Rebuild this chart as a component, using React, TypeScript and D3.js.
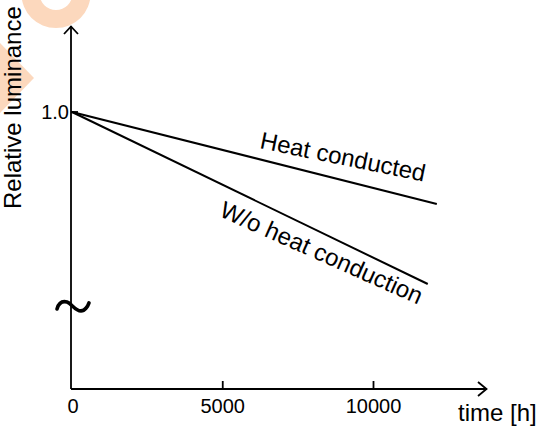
import React from "react";
import * as d3 from "d3";

const xTicks = [0, 5000, 10000];
const xTickLabels = ["0", "5000", "10000"];
const yTicks = [1.0];
const yTickLabels = ["1.0"];

const heatTime = [0, 12100];
const heatValue = [1.0, 0.668];
const woTime = [0, 11800];
const woValue = [1.0, 0.379];

const seriesLabels = ["Heat conducted", "W/o heat conduction"];
const xTitle = "time [h]";
const yTitle = "Relative luminance";

const W = 538;
const H = 427;
const FONT = "Arial, 'Liberation Sans', Helvetica, sans-serif";

export default function App() {
  const x = d3.scaleLinear().domain([0, 10000]).range([72, 373.5]);
  const y = d3.scaleLinear().domain([0, 1]).range([389, 112]);
  const axisX = 71;
  const axisY = y(0);

  const line = d3
    .line<[number, number]>()
    .x((d) => x(d[0]))
    .y((d) => y(d[1]));

  const heatPts: [number, number][] = heatTime.map((t, i) => [t, heatValue[i]]);
  const woPts: [number, number][] = woTime.map((t, i) => [t, woValue[i]]);

  const interp = (ts: number[], vs: number[], t: number) =>
    vs[0] + ((vs[1] - vs[0]) * (t - ts[0])) / (ts[1] - ts[0]);

  const heatLabelT = 6200;
  const woLabelT = 4850;

  const tildeCy = y(0.3);

  return (
    <div style={{ position: "absolute", left: 0, top: 0, margin: 0 }}>
      <svg width={W} height={H} style={{ display: "block", background: "#fff" }}>
        {/* watermark */}
        <g fill="#fcd8bd">
          <path
            d={
              d3.arc()({
                innerRadius: 16.5,
                outerRadius: 34.6,
                startAngle: 0,
                endAngle: Math.PI * 2,
              }) as string
            }
            transform="translate(56,-6.5)"
          />
          <polygon points="0,43 34,78 0,113" />
        </g>

        {/* axes */}
        <g stroke="#000" strokeWidth={1.8} fill="none">
          <line x1={axisX} y1={axisY} x2={axisX} y2={26} />
          <line x1={axisX} y1={axisY} x2={487} y2={axisY} />
          <polyline points={`${axisX - 7},34 ${axisX},26.5 ${axisX + 7},34`} />
          <polyline points={`478,${axisY - 7} 486.5,${axisY} 478,${axisY + 7}`} />
          {xTicks.slice(1).map((t) => (
            <line key={t} x1={x(t)} x2={x(t)} y1={axisY} y2={axisY - 8} />
          ))}
          {yTicks.map((t) => (
            <line key={t} x1={axisX} x2={axisX + 7} y1={y(t)} y2={y(t)} />
          ))}
        </g>

        {/* tilde break mark */}
        <path
          d={`M${axisX - 14},${tildeCy + 3} C${axisX - 12},${tildeCy - 4} ${axisX - 8},${tildeCy - 5} ${axisX - 4},${tildeCy - 4} C${axisX},${tildeCy - 3} ${axisX + 4},${tildeCy + 5} ${axisX + 10},${tildeCy + 5} C${axisX + 14},${tildeCy + 5} ${axisX + 17},${tildeCy} ${axisX + 18},${tildeCy - 3}`}
          stroke="#000"
          strokeWidth={3.6}
          fill="none"
          strokeLinecap="round"
        />

        {/* tick labels */}
        <g fontFamily={FONT} fontSize={20} fill="#000">
          {xTicks.map((t, i) => (
            <text key={t} x={x(t) + (i === 0 ? 1 : 0)} y={413} textAnchor="middle">
              {xTickLabels[i]}
            </text>
          ))}
          {yTicks.map((t, i) => (
            <text key={t} x={69} y={y(t) + 7} textAnchor="end">
              {yTickLabels[i]}
            </text>
          ))}
        </g>

        {/* axis titles */}
        <text x={458} y={421} fontFamily={FONT} fontSize={24} fill="#000">
          {xTitle}
        </text>
        <text
          transform="translate(21,209) rotate(-90)"
          fontFamily={FONT}
          fontSize={24}
          fill="#000"
        >
          {yTitle}
        </text>

        {/* series */}
        <path d={line(heatPts) as string} stroke="#000" strokeWidth={2} fill="none" />
        <path d={line(woPts) as string} stroke="#000" strokeWidth={2} fill="none" />

        {/* series labels */}
        <text
          transform={`translate(${x(heatLabelT)},${y(interp(heatTime, heatValue, heatLabelT)) - 11}) rotate(11.5)`}
          fontFamily={FONT}
          fontSize={24}
          fill="#000"
        >
          {seriesLabels[0]}
        </text>
        <text
          transform={`translate(${x(woLabelT)},${y(interp(woTime, woValue, woLabelT)) + 33}) rotate(24)`}
          fontFamily={FONT}
          fontSize={24}
          fill="#000"
        >
          {seriesLabels[1]}
        </text>
      </svg>
    </div>
  );
}
